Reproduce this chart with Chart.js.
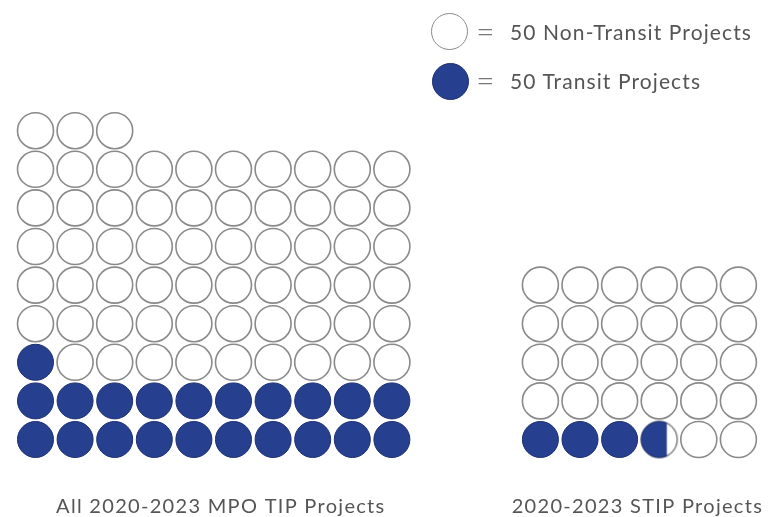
<!DOCTYPE html>
<html>
<head>
<meta charset="utf-8">
<script src="https://cdn.jsdelivr.net/npm/chart.js@4"></script>
<style>
  body { margin: 0; background: #fff; font-family: Lato, "Open Sans", sans-serif; }
  #wrap { position: relative; width: 768px; height: 517px; }
  #grafico { position: absolute; left: 0; top: 0; }
  .dot { position: absolute; width: 37px; height: 37px; border-radius: 50%; box-sizing: border-box; }
  .txt { position: absolute; color: #555; font-size: 21px; line-height: 24px; letter-spacing: 1.1px; white-space: nowrap; }
  .eq { position: absolute; color: #777; font-size: 32px; line-height: 32px; font-weight: 300; }
</style>
</head>
<body>
<div id="wrap">
  <canvas id="grafico" width="768" height="517"></canvas>
  <!-- legenda -->
  <div class="dot" style="left:431px; top:13px; border:1.6px solid #8a8a8a; background:#fff;"></div>
  <div class="eq" style="left:476px; top:15px;">=</div>
  <div class="txt" style="left:510px; top:20px;">50 Non-Transit Projects</div>
  <div class="dot" style="left:432px; top:63px; border:1px solid #1c2f70; background:#273f8f;"></div>
  <div class="eq" style="left:476px; top:64px;">=</div>
  <div class="txt" style="left:510px; top:69px;">50 Transit Projects</div>
</div>
<script>
// Dados
const grupos = ['All 2020-2023 MPO TIP Projects', '2020-2023 STIP Projects'];
const projetosTransito = [1050, 188];
const projetosNaoTransito = [3100, 1312];
const projetosPorIcone = 50;
const iconesPorLinha = [10, 6];

// Layout (unidades de célula)
const deslocGrupo = [0, 12.75];
const ajusteRotulo = [0.18, -0.05];
const pxColuna = 39.6, pxLinha = 38.6;
const origemX = 35.5, origemY = 439.5, baseArea = 492;

const azul = '#273f8f';
const bordaAzul = '#1c2f70';
const cinza = '#8a8a8a';
const raio = 18;

// ícone parcialmente preenchido (fração de área)
function iconeParcial(frac) {
    // acha o corte vertical que dá a área pedida
    let lo = -1, hi = 1;
    for (let k = 0; k < 40; k++) {
        const t = (lo + hi) / 2;
        const a = 0.5 + (t * Math.sqrt(1 - t * t) + Math.asin(t)) / Math.PI;
        if (a < frac) lo = t; else hi = t;
    }
    const c = document.createElement('canvas');
    c.width = 40; c.height = 40;
    const g = c.getContext('2d');
    g.beginPath(); g.arc(20, 20, raio, 0, Math.PI * 2);
    g.fillStyle = '#fff'; g.fill();
    g.lineWidth = 1.6; g.strokeStyle = cinza; g.stroke();
    g.save();
    g.beginPath(); g.rect(0, 0, 20 + lo * raio, 40); g.clip();
    g.beginPath(); g.arc(20, 20, raio, 0, Math.PI * 2);
    g.fillStyle = azul; g.fill();
    g.lineWidth = 1; g.strokeStyle = bordaAzul; g.stroke();
    g.restore();
    return c;
}

const pontosTransito = [];
const pontosNaoTransito = [];
grupos.forEach((nome, gi) => {
    const icTransito = projetosTransito[gi] / projetosPorIcone;
    const total = Math.ceil((projetosTransito[gi] + projetosNaoTransito[gi]) / projetosPorIcone);
    for (let i = 0; i < total; i++) {
        const p = { x: deslocGrupo[gi] + (i % iconesPorLinha[gi]), y: Math.floor(i / iconesPorLinha[gi]) };
        if (i + 1 <= icTransito) {
            pontosTransito.push(p);
        } else if (i < icTransito) {
            p.frac = icTransito - i;
            pontosTransito.push(p);
        } else {
            pontosNaoTransito.push(p);
        }
    }
});

const centros = grupos.map((n, gi) => deslocGrupo[gi] + (iconesPorLinha[gi] - 1) / 2 + ajusteRotulo[gi]);

// espaçamento das letras nos rótulos
const espacoLetras = {
    id: 'espacoLetras',
    beforeDraw(chart) { chart.ctx.letterSpacing = '1.3px'; }
};

const ctx = document.getElementById('grafico').getContext('2d');
const chart = new Chart(ctx, {
    type: 'scatter',
    data: {
        datasets: [{
            label: '50 Non-Transit Projects',
            data: pontosNaoTransito,
            pointRadius: raio,
            pointBackgroundColor: '#fff',
            pointBorderColor: cinza,
            pointBorderWidth: 1.6,
        }, {
            label: '50 Transit Projects',
            data: pontosTransito,
            pointRadius: raio,
            pointBackgroundColor: azul,
            pointBorderColor: bordaAzul,
            pointBorderWidth: 1,
            pointStyle: c => (c.raw && c.raw.frac) ? iconeParcial(c.raw.frac) : 'circle',
        }]
    },
    plugins: [espacoLetras],
    options: {
        responsive: false,
        animation: false,
        layout: { padding: 0, autoPadding: false },
        plugins: { legend: { display: false }, tooltip: { enabled: false } },
        scales: {
            x: {
                type: 'linear',
                min: -origemX / pxColuna,
                max: (768 - origemX) / pxColuna,
                grid: { display: false, drawTicks: false },
                border: { display: false },
                afterBuildTicks: s => { s.ticks = centros.map(v => ({ value: v })); },
                afterFit: s => { s.height = 517 - baseArea; s.paddingLeft = 0; s.paddingRight = 0; },
                ticks: {
                    autoSkip: false,
                    maxRotation: 0,
                    padding: 3,
                    color: '#555',
                    font: { family: 'Lato', size: 20 },
                    callback: (v, i) => grupos[i]
                }
            },
            y: {
                display: false,
                min: -(baseArea - origemY) / pxLinha,
                max: origemY / pxLinha
            }
        }
    }
});
</script>
</body>
</html>
